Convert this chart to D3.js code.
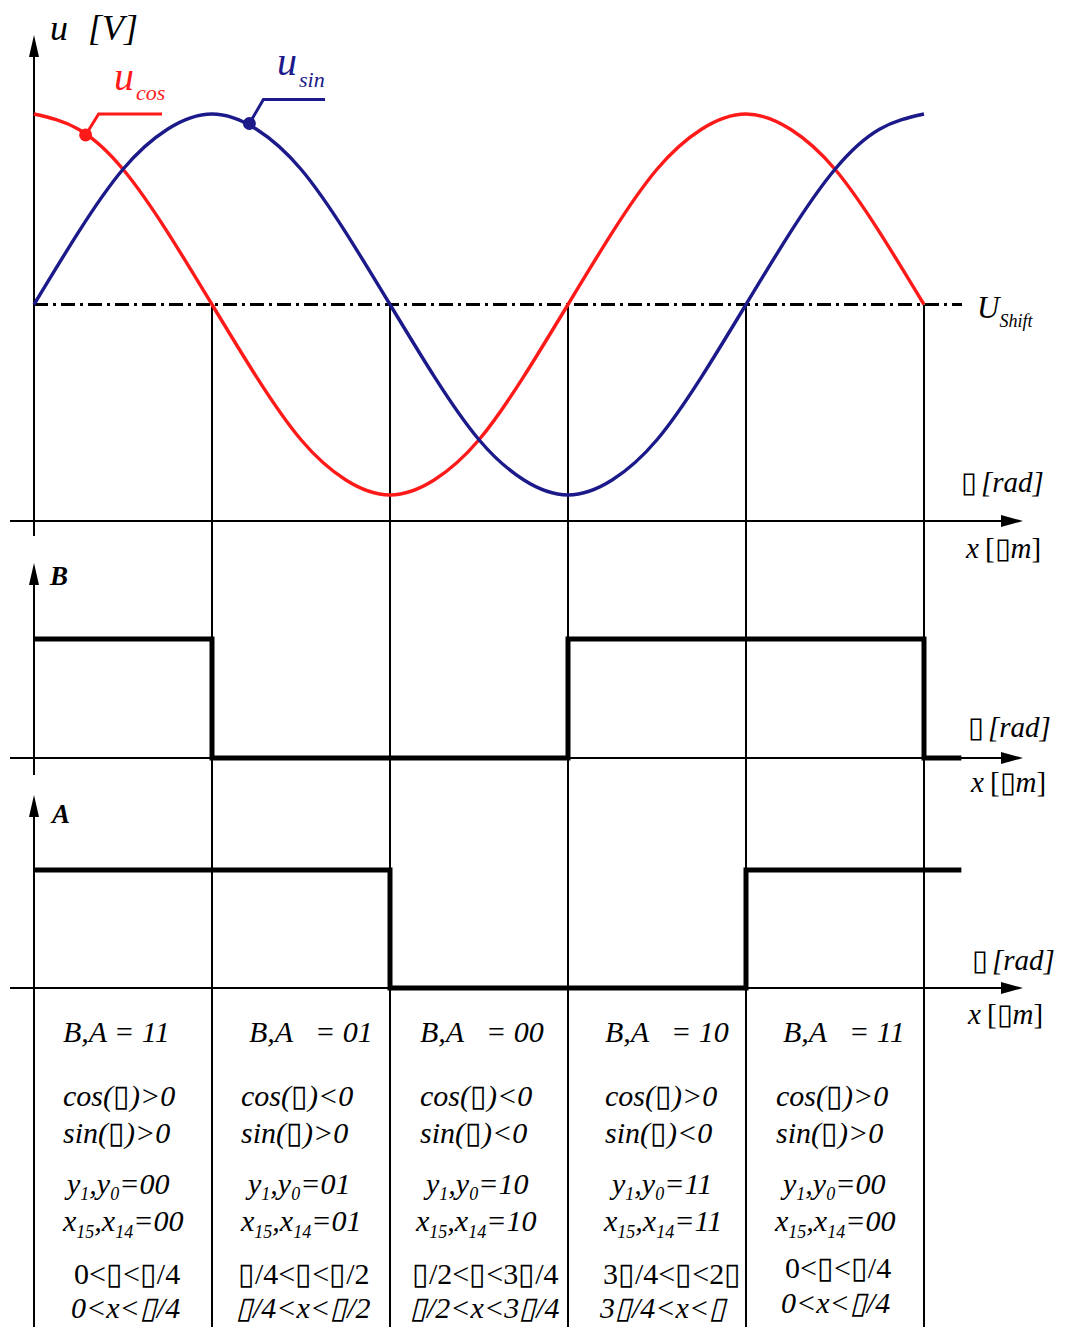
<!DOCTYPE html>
<html>
<head>
<meta charset="utf-8">
<script src="https://cdn.jsdelivr.net/npm/d3@7"></script>
</head>
<body style="margin:0; background:#fff">
<script>
// Phase in quarter periods (1 unit = pi/2 rad)
const phase = [0, 0.25, 0.5, 0.75, 1, 1.25, 1.5, 1.75, 2, 2.25, 2.5, 2.75, 3, 3.25, 3.5, 3.75, 4, 4.25, 4.5, 4.75, 5];
// Normalised encoder track voltages around U_Shift
const uCos = [1.00, 0.92, 0.71, 0.38, 0.00, -0.38, -0.71, -0.92, -1.00, -0.92, -0.71, -0.38, 0.00, 0.38, 0.71, 0.92, 1.00, 0.92, 0.71, 0.38, 0.00];
const uSin = [0.00, 0.38, 0.71, 0.92, 1.00, 0.92, 0.71, 0.38, 0.00, -0.38, -0.71, -0.92, -1.00, -0.92, -0.71, -0.38, 0.00, 0.38, 0.71, 0.92, 1.00];

// Digital comparator outputs per quarter period
const stateEdges = [0, 1, 2, 3, 4, 5, 5.21];
const bState = [1, 0, 0, 1, 1, 0, 0];
const aState = [1, 1, 0, 0, 1, 1, 1];

// Curve label markers: [phase, value]
const cosMarker = [0.29, 0.89];
const sinMarker = [1.21, 0.95];

// Quadrant decoding table
const baLabels = ["B,A = 11", "B,A   = 01", "B,A   = 00", "B,A   = 10", "B,A   = 11"];
const cosSigns = [">0", "<0", "<0", ">0", ">0"];
const sinSigns = [">0", ">0", "<0", "<0", ">0"];
const yCodes = ["00", "01", "10", "11", "00"];
const xCodes = ["00", "01", "10", "11", "00"];
const phiRanges = ["0<▯<▯/4", "▯/4<▯<▯/2", "▯/2<▯<3▯/4", "3▯/4<▯<2▯", "0<▯<▯/4"];
const xRanges = ["0<x<▯/4", "▯/4<x<▯/2", "▯/2<x<3▯/4", "3▯/4<x<▯", "0<x<▯/4"];

const W = 1067, H = 1327;
const SERIF = "Liberation Serif";
const svg = d3.select("body").append("svg").attr("width", W).attr("height", H).style("display", "block");
svg.append("rect").attr("width", W).attr("height", H).attr("fill", "#fff");

const x = d3.scaleLinear().domain([0, 5]).range([34, 924]);
const yU = d3.scaleLinear().domain([-1, 1]).range([495, 114]);
const yB = d3.scaleLinear().domain([0, 1]).range([758, 639]);
const yA = d3.scaleLinear().domain([0, 1]).range([988, 870]);

const RED = "#ff1a1a", NAVY = "#1c1a8a";

function arrowPath(g, x1, y1, dir) {
  let p;
  if (dir === "up") p = [[x1, y1], [x1 - 5, y1 + 22], [x1 + 5, y1 + 22]];
  else p = [[x1, y1], [x1 - 22, y1 - 6], [x1 - 22, y1 + 6]];
  g.append("path").attr("d", d3.line()(p) + "Z").attr("fill", "#000");
}

const axes = svg.append("g").attr("stroke", "#000").attr("stroke-width", 2).attr("fill", "none");

// vertical quarter-period boundaries
[1, 2, 3, 4, 5].forEach(k => {
  axes.append("line").attr("x1", x(k)).attr("x2", x(k)).attr("y1", yU(0)).attr("y2", H);
});

// y axes
axes.append("line").attr("x1", x(0)).attr("x2", x(0)).attr("y1", 50).attr("y2", 536);
axes.append("line").attr("x1", x(0)).attr("x2", x(0)).attr("y1", 578).attr("y2", 775);
axes.append("line").attr("x1", x(0)).attr("x2", x(0)).attr("y1", 810).attr("y2", H);
// x axes
[521, yB(0), yA(0)].forEach(yy => {
  axes.append("line").attr("x1", 10).attr("x2", 1008).attr("y1", yy).attr("y2", yy);
});
const heads = svg.append("g");
arrowPath(heads, x(0), 35, "up");
arrowPath(heads, x(0), 563, "up");
arrowPath(heads, x(0), 795, "up");
[521, yB(0), yA(0)].forEach(yy => arrowPath(heads, 1023, yy, "right"));

// U_Shift dash-dot reference
svg.append("line").attr("x1", x(0)).attr("x2", 962).attr("y1", yU(0)).attr("y2", yU(0))
  .attr("stroke", "#000").attr("stroke-width", 3).attr("stroke-dasharray", "14,5,3,5");

// sine / cosine tracks
const wave = d3.line().x((d, i) => x(phase[i])).y(d => yU(d)).curve(d3.curveNatural);
svg.append("path").attr("d", wave(uCos)).attr("fill", "none").attr("stroke", RED).attr("stroke-width", 3.4);
svg.append("path").attr("d", wave(uSin)).attr("fill", "none").attr("stroke", NAVY).attr("stroke-width", 3.4);

// markers with leader lines
function marker(m, color, dx, dy, xEnd) {
  const cx = x(m[0]), cy = yU(m[1]);
  svg.append("path").attr("d", d3.line()([[cx, cy], [cx + dx, cy + dy], [xEnd, cy + dy]]))
    .attr("fill", "none").attr("stroke", color).attr("stroke-width", 3);
  svg.append("circle").attr("cx", cx).attr("cy", cy).attr("r", 6.5).attr("fill", color);
}
marker(cosMarker, RED, 13, -21, 162);
marker(sinMarker, NAVY, 14, -24, 325);

// digital signals B and A
const stepB = d3.line().x((d, i) => x(stateEdges[i])).y(d => yB(d)).curve(d3.curveStepAfter);
const stepA = d3.line().x((d, i) => x(stateEdges[i])).y(d => yA(d)).curve(d3.curveStepAfter);
svg.append("path").attr("d", stepB(bState)).attr("fill", "none").attr("stroke", "#000").attr("stroke-width", 5);
svg.append("path").attr("d", stepA(aState)).attr("fill", "none").attr("stroke", "#000").attr("stroke-width", 5);

// ---- labels ----
function txt(xp, yp, size, opts = {}) {
  return svg.append("text").attr("x", xp).attr("y", yp)
    .style("font-family", SERIF)
    .style("font-size", size + "px")
    .style("font-style", opts.italic === false ? "normal" : "italic")
    .style("font-weight", opts.bold ? "bold" : "normal")
    .attr("fill", opts.color || "#000");
}
function sub(t, s, size, dy) {
  t.append("tspan").style("font-size", size + "px").attr("dy", dy).text(s);
}
const uv = txt(50, 40, 36);
uv.append("tspan").text("u");
uv.append("tspan").attr("dx", 20).text("[V]");

const uc = txt(114, 90, 40, { color: RED });
uc.append("tspan").text("u");
uc.append("tspan").style("font-size", "22px").attr("dy", 10).attr("dx", 2).text("cos");
const us = txt(277, 75, 40, { color: NAVY });
us.append("tspan").text("u");
us.append("tspan").style("font-size", "22px").attr("dy", 12).attr("dx", 2).text("sin");

const ush = txt(977, 318, 31);
ush.append("tspan").text("U");
ush.append("tspan").style("font-size", "18px").attr("dy", 9).text("Shift");

function unitLabels(xr, yr, xx, yx) {
  const r = txt(xr, yr, 29);
  r.append("tspan").style("font-style", "normal").text("▯");
  r.append("tspan").attr("dx", 4).text("[rad]");
  const m = txt(xx, yx, 29);
  m.append("tspan").text("x");
  m.append("tspan").attr("dx", 6).style("font-style", "normal").text("[");
  m.append("tspan").style("font-style", "normal").text("▯");
  m.append("tspan").text("m");
  m.append("tspan").style("font-style", "normal").text("]");
}
unitLabels(961, 492, 966, 558);
unitLabels(968, 737, 971, 792);
unitLabels(972, 970, 968, 1024);

txt(50, 585, 27, { bold: true }).text("B");
txt(52, 823, 27, { bold: true }).text("A");

// decoding table
const colLeft = [
  { ba: 63, cs: 63, y: 67, x: 63, r1: 74, r2: 71 },
  { ba: 249, cs: 241, y: 248, x: 241, r1: 238, r2: 236 },
  { ba: 420, cs: 420, y: 426, x: 416, r1: 412, r2: 410 },
  { ba: 605, cs: 605, y: 612, x: 604, r1: 603, r2: 600 },
  { ba: 783, cs: 776, y: 783, x: 775, r1: 785, r2: 781 }
];
const FS = 30;
colLeft.forEach((c, i) => {
  const last = i === 4;
  txt(c.ba, 1042, FS).style("white-space", "pre").text(baLabels[i]);
  const co = txt(c.cs, 1106, FS);
  co.append("tspan").text("cos(");
  co.append("tspan").style("font-style", "normal").text("▯");
  co.append("tspan").text(")" + cosSigns[i]);
  const si = txt(c.cs, 1143, FS);
  si.append("tspan").text("sin(");
  si.append("tspan").style("font-style", "normal").text("▯");
  si.append("tspan").text(")" + sinSigns[i]);
  const yy = txt(c.y, 1194, FS);
  yy.append("tspan").text("y");
  sub(yy, "1", 18, 6);
  yy.append("tspan").attr("dy", -6).text(",y");
  sub(yy, "0", 18, 6);
  yy.append("tspan").attr("dy", -6).text("=" + yCodes[i]);
  const xx = txt(c.x, 1231, FS);
  xx.append("tspan").text("x");
  sub(xx, "15", 18, 7);
  xx.append("tspan").attr("dy", -7).text(",x");
  sub(xx, "14", 18, 7);
  xx.append("tspan").attr("dy", -7).text("=" + xCodes[i]);
  txt(c.r1, last ? 1278 : 1284, FS, { italic: false }).text(phiRanges[i]);
  txt(c.r2, last ? 1313 : 1318, FS).text(xRanges[i]);
});
</script>
</body>
</html>
